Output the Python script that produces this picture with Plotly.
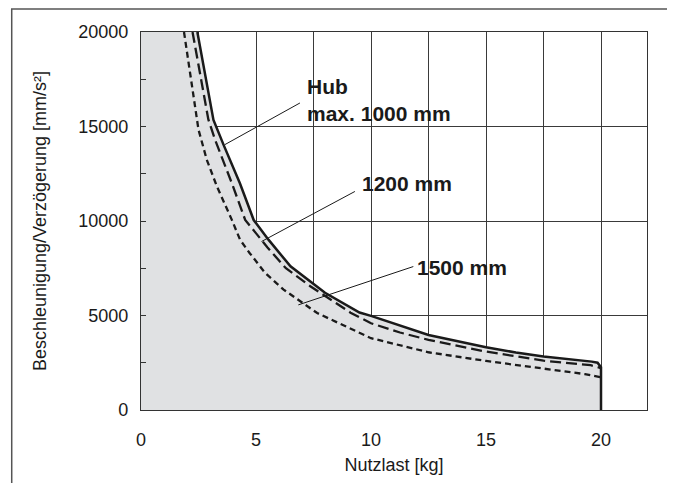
import plotly.graph_objects as go

# Payload [kg] vs. acceleration/deceleration [mm/s^2]
solid_x = [2.45, 2.8, 3.15, 3.6, 4.3, 4.9, 5.55, 6.5, 8.0, 9.5, 10.0, 12.5, 15.0, 16.3, 17.5, 19.6, 19.85, 20.0, 20.0]
solid_y = [20000, 17600, 15350, 14000, 12000, 10050, 9000, 7600, 6200, 5160, 4980, 3970, 3320, 3040, 2830, 2560, 2500, 2260, 0]

long_x = [2.24, 2.6, 2.93, 3.22, 3.95, 4.53, 5.04, 5.5, 6.3, 7.36, 9.11, 10.0, 11.26, 12.5, 15.0, 17.5, 19.55, 20.0]
long_y = [20000, 17500, 15360, 14300, 12000, 10060, 9270, 8600, 7500, 6550, 5150, 4590, 4100, 3710, 3090, 2610, 2370, 2220]

short_x = [1.87, 2.2, 2.5, 2.86, 3.3, 3.95, 4.31, 4.72, 5.4, 6.2, 7.66, 10.0, 12.5, 15.0, 17.5, 19.3, 20.0]
short_y = [20000, 17300, 14830, 13240, 11830, 10060, 9000, 8310, 7250, 6370, 5130, 3800, 3055, 2595, 2170, 1900, 1730]

x_ticks = [0, 5, 10, 15, 20]
x_ticktext = ["0", "5", "10", "15", "20"]
y_ticks = [0, 5000, 10000, 15000, 20000]
y_ticktext = ["0", "5000", "10000", "15000", "20000"]

labels = [
    ("Hub<br>max. 1000 mm", 7.12, 16400),
    ("1200 mm", 9.52, 11970),
    ("1500 mm", 11.92, 7520),
]
leaders = [
    (6.91, 16245, 3.64, 14037),
    (9.30, 11563, 5.24, 8915),
    (11.84, 7590, 6.84, 5562),
]

FONT = "Liberation Sans, Arial, Helvetica, sans-serif"
INK = "#1a1a1a"

fig = go.Figure()

# shaded admissible area (below the 1000 mm curve)
fill_x = [0, 0] + solid_x + [0]
fill_y = [0, solid_y[0]] + solid_y + [0]
fig.add_trace(go.Scatter(x=fill_x, y=fill_y, fill="toself", fillcolor="#e0e1e3",
                         line=dict(width=0), mode="lines", hoverinfo="skip", showlegend=False))

fig.add_trace(go.Scatter(x=short_x, y=short_y, mode="lines",
                         line=dict(color=INK, width=2.3, dash="6px,4px"), showlegend=False))
fig.add_trace(go.Scatter(x=long_x, y=long_y, mode="lines",
                         line=dict(color=INK, width=2.3, dash="11px,5px"), showlegend=False))
fig.add_trace(go.Scatter(x=solid_x, y=solid_y, mode="lines",
                         line=dict(color=INK, width=2.5), showlegend=False))

shapes = []
for x0, y0, x1, y1 in leaders:
    shapes.append(dict(type="line", xref="x", yref="y", x0=x0, y0=y0, x1=x1, y1=y1,
                       line=dict(color=INK, width=1), layer="above"))
# outer frame of the figure
shapes.append(dict(type="rect", xref="paper", yref="paper", x0=-0.2555, x1=1.0421,
                   y0=-0.30, y1=1.0608, line=dict(color="#555", width=1.5), layer="above"))

annotations = []
for txt, x, y in labels:
    annotations.append(dict(text="<b>%s</b>" % txt, x=x, y=y, xref="x", yref="y",
                            xanchor="left", yanchor="middle", align="left", showarrow=False,
                            font=dict(family=FONT, size=21, color=INK)))

# page body has an 8px margin, so the figure is 8px smaller than the window
fig.update_layout(
    width=667, height=475,
    margin=dict(l=133, r=28, t=24, b=73),
    paper_bgcolor="white", plot_bgcolor="white",
    font=dict(family=FONT, size=18, color=INK),
    shapes=shapes, annotations=annotations,
    showlegend=False,
)
fig.update_xaxes(range=[0, 22], tickvals=x_ticks, ticktext=x_ticktext, automargin=False,
                 showgrid=True, gridcolor="#3a3a3a", gridwidth=1,
                 showline=True, mirror=True, linecolor="#333", linewidth=1.3,
                 ticks="", ticklabelstandoff=13, zeroline=False,
                 minor=dict(showgrid=True, dtick=2.5, gridcolor="#3a3a3a", gridwidth=1),
                 title=dict(text="Nutzlast [kg]", standoff=9, font=dict(size=18)))
fig.update_yaxes(range=[0, 20000], tickvals=y_ticks, ticktext=y_ticktext, automargin=False,
                 showgrid=True, gridcolor="#3a3a3a", gridwidth=1,
                 showline=True, mirror=True, linecolor="#333", linewidth=1.3,
                 ticks="inside", ticklen=5, tickcolor="#333", ticklabelstandoff=8,
                 zeroline=False,
                 minor=dict(ticks="inside", dtick=2500, ticklen=5, tickcolor="#333", showgrid=False),
                 title=dict(text="Beschleunigung/Verzögerung [mm/s²]", standoff=26,
                            font=dict(size=18)))

fig.write_html("out.html")
